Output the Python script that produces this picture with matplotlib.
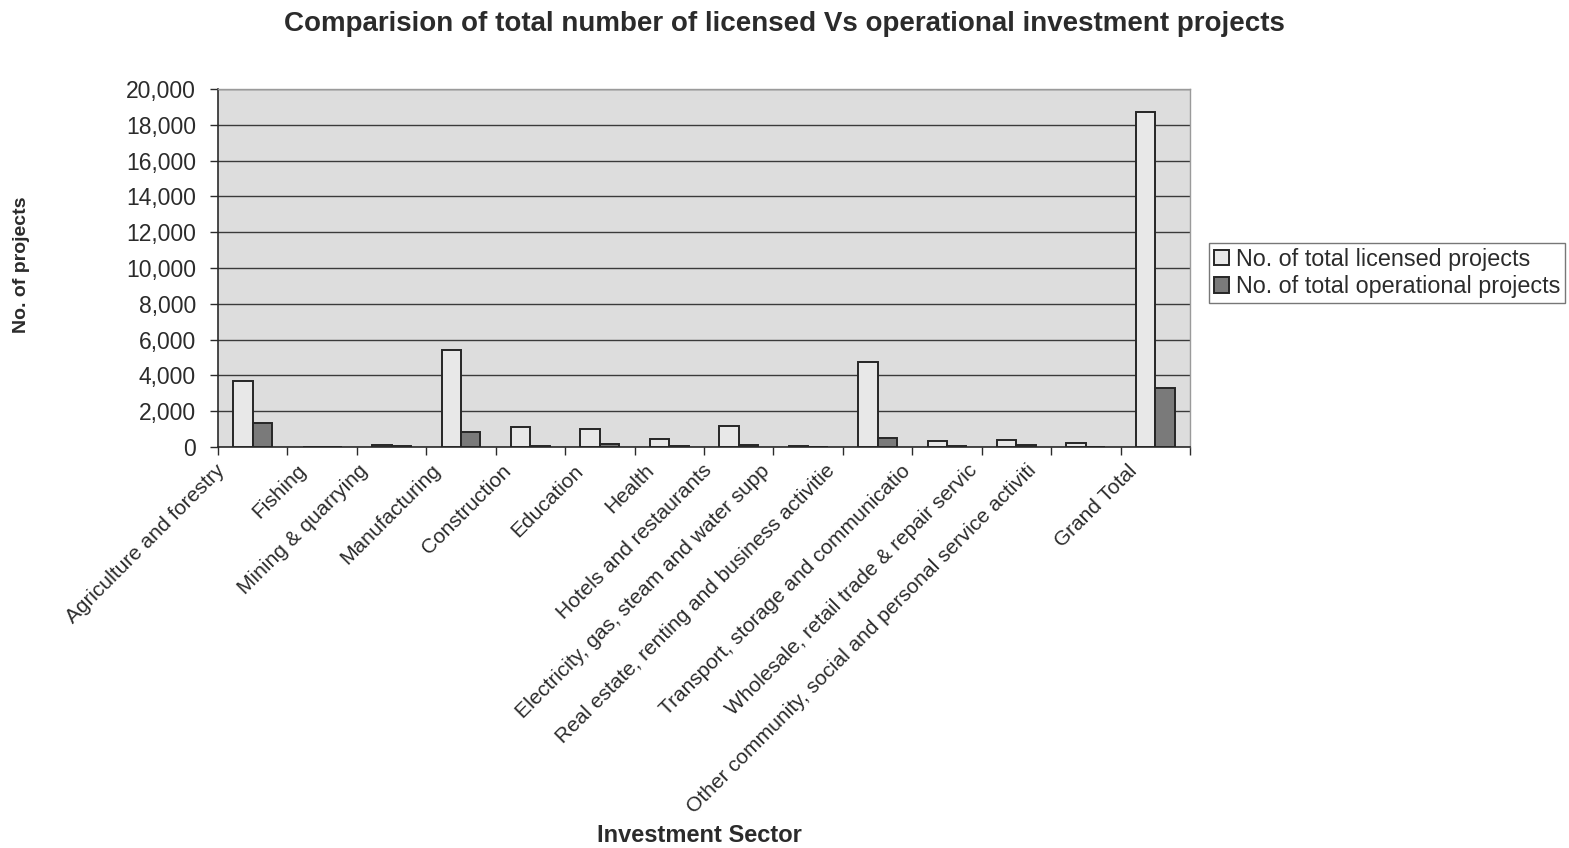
import matplotlib
matplotlib.use("Agg")
import matplotlib.pyplot as plt
import numpy as np

# Investment sectors (as they appear along the category axis)
sectors = [
    "Agriculture and forestry",
    "Fishing",
    "Mining & quarrying",
    "Manufacturing",
    "Construction",
    "Education",
    "Health",
    "Hotels and restaurants",
    "Electricity, gas, steam and water supp",
    "Real estate, renting and business activitie",
    "Transport, storage and communicatio",
    "Wholesale, retail trade & repair servic",
    "Other community, social and personal service activiti",
    "Grand Total",
]

licensed = [3700, 8, 100, 5400, 1100, 1000, 430, 1165, 40, 4750, 350, 390, 240, 18700]
operational = [1350, 0, 60, 850, 50, 170, 80, 135, 5, 500, 70, 90, 0, 3300]

series_names = ["No. of total licensed projects", "No. of total operational projects"]
y_ticks = [0, 2000, 4000, 6000, 8000, 10000, 12000, 14000, 16000, 18000, 20000]

TEXT = "#2b2b2b"
plt.rcParams["font.family"] = ["Liberation Sans", "DejaVu Sans"]

W, H = 1569, 848
fig = plt.figure(figsize=(W / 100, H / 100), dpi=100)
fig.patch.set_facecolor("white")

# plot area in pixels: left 218, right 1190, top 89, bottom 447
ax = fig.add_axes([218 / W, 1 - 447 / H, (1190 - 218) / W, (447 - 89) / H])
ax.set_facecolor("#dddddd")

x = np.arange(len(sectors))
bw = 0.28
ax.bar(x - bw / 2, licensed, width=bw, color="#e8e8e8", edgecolor="#262626",
       linewidth=1.4, label=series_names[0], zorder=3)
ax.bar(x + bw / 2, operational, width=bw, color="#7a7a7a", edgecolor="#262626",
       linewidth=1.4, label=series_names[1], zorder=3)

ax.set_xlim(-0.5, len(sectors) - 0.5)
ax.set_ylim(0, 20000)
ax.set_yticks(y_ticks)
ax.set_yticklabels([f"{v:,}" for v in y_ticks])
ax.yaxis.grid(True, color="#3a3a3a", linewidth=1.0, zorder=1)
ax.set_axisbelow(True)

# category boundary ticks on the x axis
ax.set_xticks(np.arange(len(sectors) + 1) - 0.5)
ax.set_xticklabels([])
ax.tick_params(axis="x", direction="out", length=6, width=1, color="#2b2b2b")
ax.tick_params(axis="y", direction="out", length=6, width=1, color="#2b2b2b",
               labelsize=16.5, labelcolor=TEXT, pad=10)

for s in ("left", "bottom"):
    ax.spines[s].set_color("#2b2b2b")
    ax.spines[s].set_linewidth(1.2)
for s in ("top", "right"):
    ax.spines[s].set_color("#9a9a9a")
    ax.spines[s].set_linewidth(1.0)

# rotated category labels, hanging below the axis
for i, name in enumerate(sectors):
    dx = -(20 + 0.75 * len(name))
    ax.annotate(name, xy=(i, 0), xycoords=("data", "axes fraction"),
                xytext=(dx, -14), textcoords="offset pixels",
                rotation=45, rotation_mode="anchor", ha="right", va="top",
                fontsize=15, color=TEXT, annotation_clip=False)

fig.text(0.5, 1 - 24 / H,
         "Comparision of total number of licensed Vs operational investment projects",
         ha="center", va="center", fontsize=20, fontweight="bold", color=TEXT)
fig.text(22 / W, 1 - 265 / H, "No. of projects", rotation=90, ha="center",
         va="center", fontsize=14, fontweight="bold", color=TEXT)
fig.text(699 / W, 1 - 836 / H, "Investment Sector", ha="center", va="center",
         fontsize=17, fontweight="bold", color=TEXT)

leg = fig.legend(loc="upper left", bbox_to_anchor=(1209 / W, 1 - 243 / H),
                 frameon=True, fancybox=False, fontsize=16.8,
                 handlelength=0.65, handleheight=0.65, handletextpad=0.3,
                 borderpad=0.2, labelspacing=0.2, borderaxespad=0)
leg.get_frame().set_edgecolor("#555555")
leg.get_frame().set_linewidth(1.0)
for t in leg.get_texts():
    t.set_color(TEXT)

fig.savefig("out.png", dpi=100)
